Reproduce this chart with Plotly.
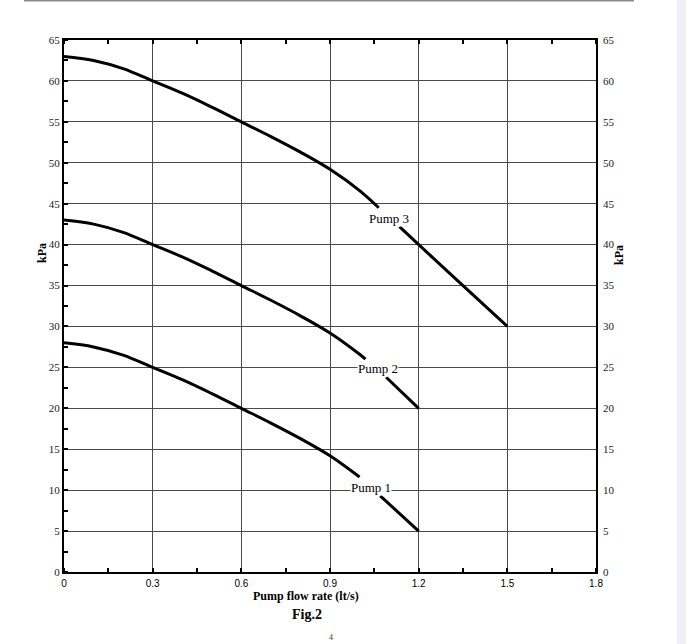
import plotly.graph_objects as go

# Flow rate (lt/s) and pressure (kPa); None marks label gaps
pump3_x = [0, 0.1, 0.2, 0.3, 0.4, 0.5, 0.6, 0.7, 0.8, 0.9, 1.0, 1.065, None, 1.135, 1.2, 1.35, 1.5]
pump3_y = [63, 62.5, 61.5, 60, 58.5, 56.8, 55, 53.2, 51.3, 49.2, 46.6, 44.5, None, 42.2, 40, 35, 30]
pump2_x = [0, 0.1, 0.2, 0.3, 0.4, 0.5, 0.6, 0.7, 0.8, 0.9, 1.0, 1.02, None, 1.09, 1.2]
pump2_y = [43, 42.5, 41.5, 40, 38.5, 36.8, 35, 33.2, 31.3, 29.2, 26.6, 26.0, None, 23.8, 20]
pump1_x = [0, 0.1, 0.2, 0.3, 0.4, 0.5, 0.6, 0.7, 0.8, 0.9, 1.0, None, 1.07, 1.2]
pump1_y = [28, 27.5, 26.5, 25, 23.5, 21.8, 20, 18.2, 16.3, 14.2, 11.6, None, 9.3, 5]

labels = ["Pump 3", "Pump 2", "Pump 1"]
label_x = [1.10, 1.064, 1.04]
label_y = [43.25, 24.9, 10.3]

x_ticks = [0, 0.3, 0.6, 0.9, 1.2, 1.5, 1.8]
x_ticktext = ["0", "0.3", "0.6", "0.9", "1.2", "1.5", "1.8"]
y_ticks = list(range(0, 70, 5))

SERIF = "Liberation Serif"
SANS = "Liberation Sans"

fig = go.Figure()
for xs, ys in [(pump3_x, pump3_y), (pump2_x, pump2_y), (pump1_x, pump1_y)]:
    fig.add_trace(go.Scatter(x=xs, y=ys, mode="lines",
                             line=dict(color="black", width=3, shape="spline", smoothing=1.0),
                             connectgaps=False, showlegend=False, hoverinfo="skip"))
# invisible trace for right axis
fig.add_trace(go.Scatter(x=[0], y=[0], yaxis="y2", mode="markers",
                         marker=dict(opacity=0), showlegend=False, hoverinfo="skip"))

for t, lx, ly in zip(labels, label_x, label_y):
    fig.add_annotation(x=lx, y=ly, text=t, showarrow=False, bgcolor="white",
                       borderpad=0, font=dict(family=SERIF, size=13, color="black"))

# titles
fig.add_annotation(xref="paper", yref="paper", x=(306 - 64) / 532, y=(572 - 605) / 532,
                   text="<b>Pump flow rate (lt/s)</b>", showarrow=False,
                   font=dict(family=SERIF, size=12, color="black"))
fig.add_annotation(xref="paper", yref="paper", x=(307 - 64) / 532, y=(572 - 624) / 532,
                   text="<b>Fig.2</b>", showarrow=False,
                   font=dict(family=SERIF, size=14, color="black"))
fig.add_annotation(xref="paper", yref="paper", x=(33 - 64) / 532, y=(572 - 253) / 532,
                   text="<b>kPa</b>", showarrow=False, textangle=-90,
                   font=dict(family=SERIF, size=12, color="black"))
fig.add_annotation(xref="paper", yref="paper", x=(628 - 64) / 532, y=(572 - 255) / 532,
                   text="<b>kPa</b>", showarrow=False, textangle=-90,
                   font=dict(family=SERIF, size=12, color="black"))
fig.add_annotation(xref="paper", yref="paper", x=(331 - 64) / 532, y=(572 - 644) / 532,
                   text="4", showarrow=False, yanchor="bottom",
                   font=dict(family=SERIF, size=8, color="#333"))

# page decorations: top rule and right grey strip
fig.add_shape(type="line", xref="paper", yref="paper",
              x0=(24 - 64) / 532, x1=(634 - 64) / 532, y0=(572 - 0.5) / 532, y1=(572 - 0.5) / 532,
              line=dict(color="#8a8a8a", width=2))
fig.add_shape(type="rect", xref="paper", yref="paper",
              x0=(677 - 64) / 532, x1=(690 - 64) / 532, y0=(572 - 650) / 532, y1=(572 + 5) / 532,
              line=dict(width=0), fillcolor="#eef0f3", layer="below")

fig.update_layout(
    width=686, height=644,
    margin=dict(l=64, r=90, t=40, b=72),
    paper_bgcolor="white", plot_bgcolor="white",
    xaxis=dict(range=[0, 1.8], tickvals=x_ticks, ticktext=x_ticktext,
               showgrid=True, gridcolor="#4a4a4a", gridwidth=1.3,
               showline=True, linecolor="black", linewidth=2, mirror="ticks",
               ticks="", zeroline=False, ticklabelstandoff=1,
               minor=dict(ticks="inside", dtick=0.15, tick0=0.15, ticklen=4,
                          tickcolor="black", tickwidth=1.5, showgrid=False),
               tickfont=dict(family=SANS, size=10, color="black")),
    yaxis=dict(range=[0, 65], tickvals=y_ticks, showgrid=True,
               gridcolor="#4a4a4a", gridwidth=1.3,
               showline=True, linecolor="black", linewidth=2, mirror=True,
               ticks="", zeroline=False,
               minor=dict(ticks="inside", dtick=2.5, tick0=0, ticklen=4,
                          tickcolor="black", tickwidth=1.5, showgrid=False),
               tickfont=dict(family=SERIF, size=11, color="#222")),
    yaxis2=dict(range=[0, 65], tickvals=y_ticks, overlaying="y", side="right",
                showgrid=False, showline=False, ticks="", zeroline=False,
                ticklabelstandoff=6,
                tickfont=dict(family=SERIF, size=11, color="#222")),
)

fig.write_html("out.html")
